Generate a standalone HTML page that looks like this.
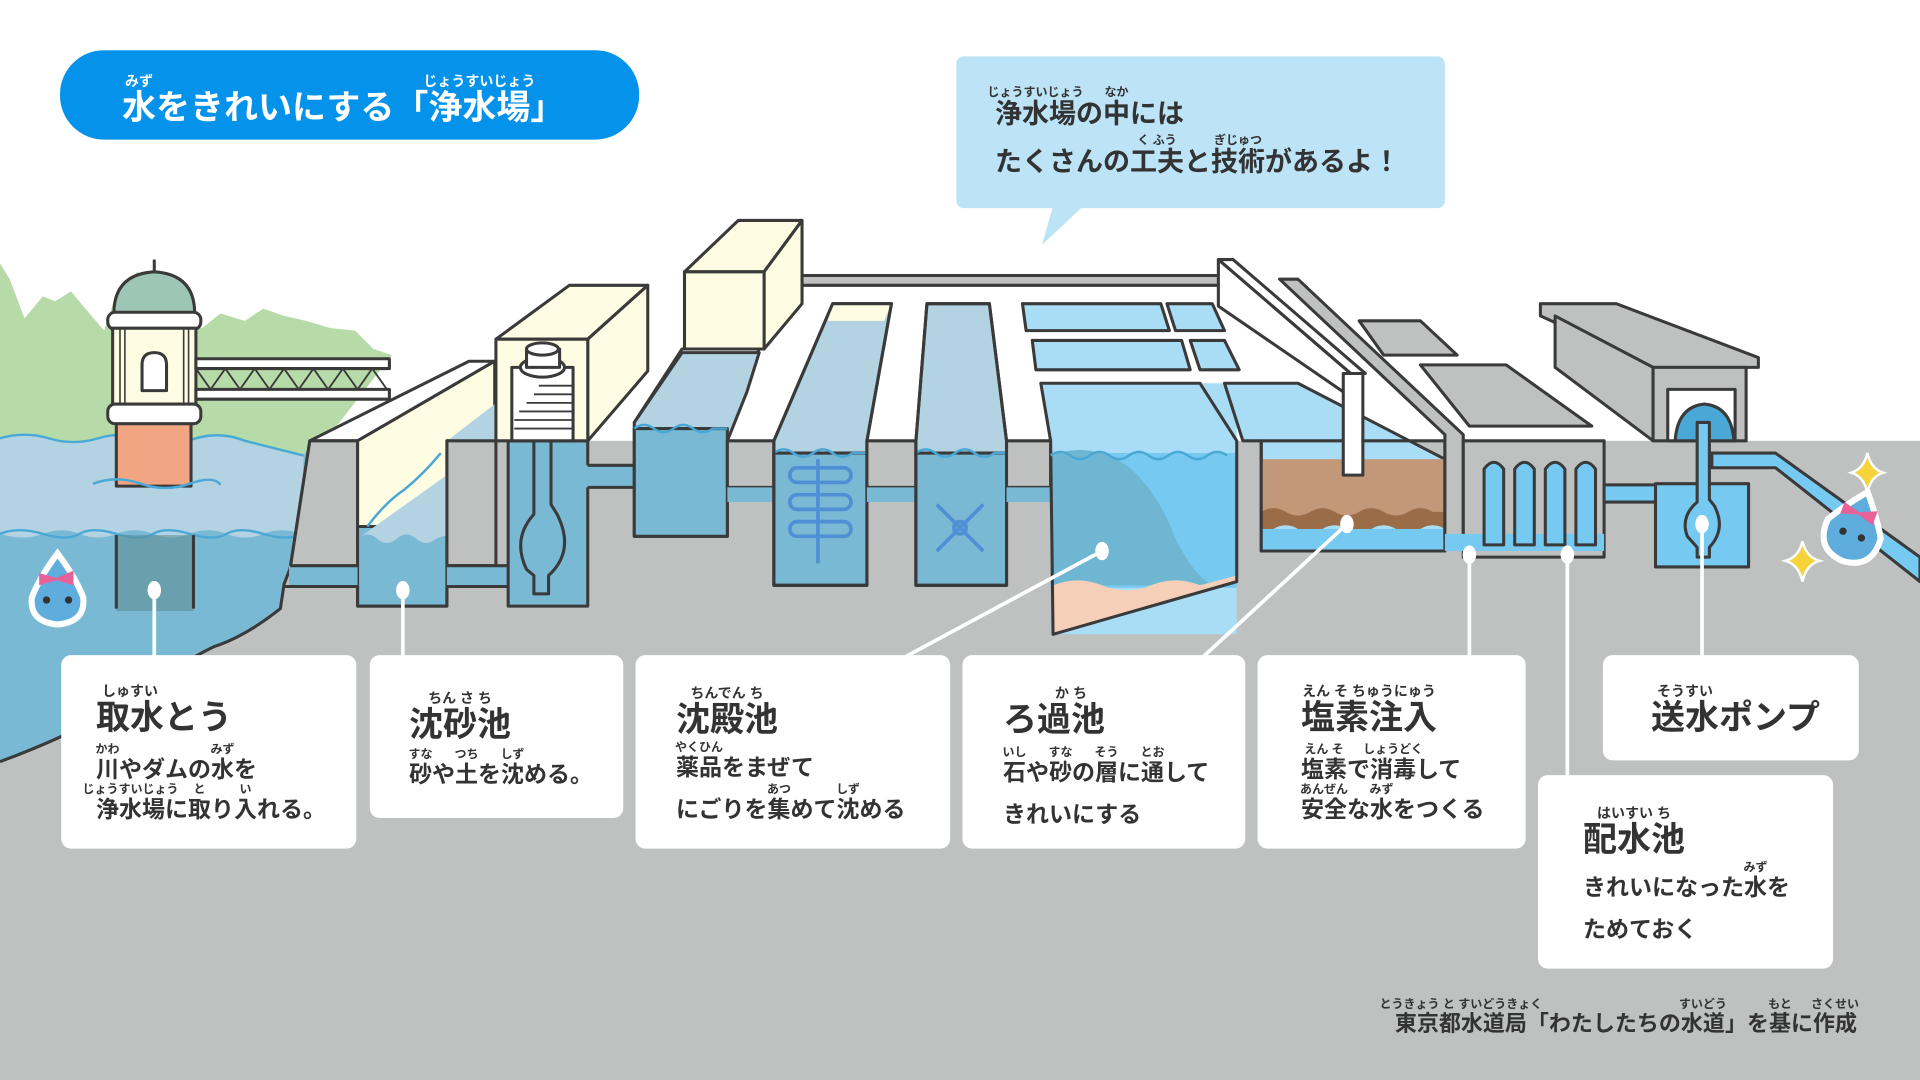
<!DOCTYPE html>
<html><head><meta charset="utf-8"><style>
html,body{margin:0;padding:0;}
body{width:1920px;height:1080px;position:relative;overflow:hidden;background:#fff;font-family:"Liberation Sans","Noto Sans CJK JP",sans-serif;}
svg{position:absolute;left:0;top:0;}
.t{position:absolute;white-space:nowrap;font-weight:bold;color:#333;line-height:2;}
.h{font-size:34px;}
.b{font-size:23px;}
.r{position:relative;display:inline-block;}
.r i{position:absolute;left:50%;transform:translateX(-50%);font-style:normal;font-size:12px;line-height:1;white-space:nowrap;top:-3px;}
.h .r i{font-size:14px;top:0px;}
.ti .r i{font-size:14px;top:0px;}
.bu .r i{top:-1px;}
.cr .r i{top:-4px;}
</style></head><body>
<svg width="1920" height="1080" viewBox="0 0 1568 882" preserveAspectRatio="none">
<g stroke="#3a3a3a" stroke-width="2.5" stroke-linejoin="round">
<rect x="0" y="360" width="1568" height="522" fill="#bfc0c0" stroke="none"/>
<path d="M0,215 L8,228 L20,260 L35,242 L45,246 L58,238 L68,250 L85,270 L95,240 L112,222 L130,235 L150,262 L165,268 L180,256 L200,262 L215,252 L232,258 L250,262 L270,268 L290,270 L305,285 L320,290 L250,380 L0,380Z" fill="#b6dba9" stroke="none"/>
<path d="M0,358 Q20,352 40,358 T80,358 T120,358 T160,358 T200,360 L248,372 L255,360 L237,464 L232,477 L229,497 Q200,520 175,528 Q140,545 110,570 Q60,600 0,622Z" fill="#79b9d4" stroke="none"/>
<path d="M0,358 Q20,352 40,358 T80,358 T120,358 T160,358 T200,360 L248,372 L246,436 Q230,430 215,436 T185,436 T155,436 T125,436 T95,436 T65,436 T35,436 T0,436Z" fill="#b3d3e3" stroke="none"/>
<path d="M0,358 Q20,352 40,358 T80,358 T120,358 T160,358 T200,360 L248,372" fill="none" stroke="#4aa8d6" stroke-width="2"/>
<path d="M0,436 Q15,430 35,436 T65,436 T95,436 T125,436 T155,436 T185,436 T215,436 T248,436" fill="none" stroke="#4aa8d6" stroke-width="2"/>
<path d="M253,360 L237,464 L232,477 L229,497 Q200,520 175,528 Q140,545 110,570 Q60,600 0,622" fill="none" stroke="#3a3a3a" stroke-width="2.5"/>
<rect x="95" y="437" width="63" height="62" fill="#5f8a8e" opacity="0.55" stroke="none"/>
<line x1="95" y1="437" x2="95" y2="497"/><line x1="158" y1="437" x2="158" y2="497"/>
<rect x="95" y="345" width="61" height="52" fill="#f2a582"/>
<path d="M76,395 Q95,388 115,395 T155,395 T180,396" fill="none" stroke="#4aa8d6" stroke-width="2"/>
<path d="M93,256 Q93,224 126,222 Q159,224 159,256Z" fill="#9ec6b6"/>
<line x1="126" y1="212" x2="126" y2="222"/>
<rect x="88" y="255" width="76" height="14" rx="6" fill="#fff"/>
<rect x="92" y="268" width="68" height="64" fill="#fefde3"/>
<g stroke-width="1.3"><line x1="98" y1="268" x2="98" y2="332"/><line x1="102" y1="268" x2="102" y2="332"/><line x1="150" y1="268" x2="150" y2="332"/><line x1="154" y1="268" x2="154" y2="332"/></g>
<path d="M116,319 L116,298 Q116,288 126,288 Q136,288 136,298 L136,319Z" fill="#fff"/>
<rect x="88" y="330" width="76" height="16" rx="6" fill="#fff"/>
<rect x="160" y="293" width="158" height="8" fill="#fff"/>
<rect x="160" y="318" width="158" height="8" fill="#fff"/>
<path d="M160,301 L172,318 L184,301 L196,318 L208,301 L220,318 L232,301 L244,318 L256,301 L268,318 L280,301 L292,318 L304,301 L316,318" fill="none" stroke-width="1.5"/>
<path d="M253,360 L292,360 L404,295 L383,295Z" fill="#fff"/>
<path d="M292,360 L404,295 L404,360 L365,360 L365,430 L292,430Z" fill="#fefde3"/>
<path d="M253,360 L292,360 L292,462 L237,464Z" fill="#bfc0c0"/>
<rect x="292" y="430" width="73" height="65" fill="#79b9d4"/>
<path d="M292,440 Q300,433 308,440 T324,440 T340,440 T356,440 L365,437 L365,360 L404,330 L404,360" fill="#b3d3e3" stroke="none"/>
<path d="M300,430 Q315,410 330,400 Q345,388 360,370" fill="none" stroke="#4aa8d6" stroke-width="2"/>
<rect x="236" y="462" width="56" height="17" fill="#79b9d4" stroke="none"/>
<line x1="237" y1="462" x2="292" y2="462"/><line x1="232" y1="479" x2="292" y2="479"/>
<rect x="365" y="360" width="40" height="102" fill="#bfc0c0"/>
<rect x="365" y="462" width="52" height="17" fill="#79b9d4" stroke="none"/>
<line x1="365" y1="462" x2="415" y2="462"/><line x1="365" y1="479" x2="415" y2="479"/>
<line x1="292" y1="479" x2="292" y2="495"/><line x1="292" y1="495" x2="365" y2="495"/><line x1="365" y1="495" x2="365" y2="479"/>
<rect x="415" y="360" width="65" height="135" fill="#79b9d4"/>
<rect x="452" y="380" width="66" height="18" fill="#79b9d4" stroke="none"/>
<line x1="480" y1="380" x2="518" y2="380"/><line x1="480" y1="398" x2="518" y2="398"/>
<path d="M436,360 L436,420 Q418,440 430,465 L436,470 L436,485 L448,485 L448,470 Q470,450 455,420 L450,412 L450,360" fill="#79b9d4"/>
<path d="M405,277 L465,233 L529,233 L480,277Z" fill="#fefde3"/>
<path d="M480,277 L529,233 L529,303 L480,360Z" fill="#fefde3"/>
<rect x="405" y="277" width="75" height="83" fill="#fefde3"/>
<rect x="418" y="300" width="50" height="60" fill="#fff"/>
<g stroke-width="1.5"><line x1="440" y1="315" x2="468" y2="315"/><line x1="436" y1="322" x2="468" y2="322"/><line x1="430" y1="329" x2="468" y2="329"/><line x1="424" y1="336" x2="468" y2="336"/><line x1="420" y1="343" x2="468" y2="343"/><line x1="420" y1="350" x2="468" y2="350"/></g>
<ellipse cx="443" cy="300" rx="18" ry="8" fill="#fff"/>
<rect x="430" y="285" width="27" height="15" fill="#fff"/>
<ellipse cx="443" cy="285" rx="13" ry="5" fill="#fff"/>
<path d="M559,222 L603,180 L655,180 L624,222Z" fill="#fefde3"/>
<path d="M624,222 L655,180 L655,248 L624,285Z" fill="#fefde3"/>
<rect x="559" y="222" width="65" height="63" fill="#fefde3"/>
<rect x="655" y="225" width="345" height="8" fill="#bfc0c0"/>
<path d="M518,345 L557,285 L620,285 L596,345Z" fill="#fff"/>
<path d="M518,345 L518,438 L594,438 L594,360 L610,320 L620,288 L557,288Z" fill="#b3d3e3"/>
<rect x="518" y="350" width="76" height="88" fill="#79b9d4"/>
<path d="M518,350 Q526,344 534,350 T550,350 T566,350 T582,350 L594,350" fill="none" stroke="#4aa8d6" stroke-width="2"/>
<rect x="594" y="360" width="38" height="38" fill="#bfc0c0"/>
<rect x="594" y="398" width="38" height="12" fill="#79b9d4" stroke="none"/>
<path d="M632,478 L632,360 L680,248 L728,248 L708,360 L708,478Z" fill="#b3d3e3"/>
<path d="M680,248 L728,248 L722,262 L676,262Z" fill="#fefde3" stroke="none"/>
<rect x="632" y="370" width="76" height="108" fill="#79b9d4"/>
<path d="M632,370 Q640,364 648,370 T664,370 T680,370 T696,370 L708,370" fill="none" stroke="#4aa8d6" stroke-width="2"/>
<path d="M632,478 L632,360 L680,248 L728,248 L708,360 L708,478Z" fill="none"/>
<rect x="708" y="360" width="40" height="38" fill="#bfc0c0"/>
<rect x="708" y="398" width="40" height="12" fill="#79b9d4" stroke="none"/>
<path d="M748,478 L748,360 L757,248 L808,248 L822,360 L822,478Z" fill="#b3d3e3"/>
<rect x="748" y="370" width="74" height="108" fill="#79b9d4"/>
<path d="M748,370 Q756,364 764,370 T780,370 T796,370 T812,370 L822,370" fill="none" stroke="#4aa8d6" stroke-width="2"/>
<path d="M748,478 L748,360 L757,248 L808,248 L822,360 L822,478Z" fill="none"/>
<g stroke="#4f8fd6" stroke-width="3" fill="none">
<line x1="668" y1="375" x2="668" y2="460"/>
<rect x="645" y="382" width="50" height="12" rx="6"/><rect x="645" y="404" width="50" height="12" rx="6"/><rect x="645" y="426" width="50" height="12" rx="6"/>
<line x1="765" y1="412" x2="803" y2="450"/><line x1="803" y1="412" x2="765" y2="450"/><circle cx="784" cy="431" r="5"/>
</g>
<rect x="822" y="360" width="36" height="38" fill="#bfc0c0"/>
<rect x="822" y="398" width="36" height="12" fill="#79b9d4" stroke="none"/>
<path d="M835,248 L948,248 L955,270 L838,270Z" fill="#a9dcf5"/>
<path d="M953,248 L990,248 L1000,270 L960,270Z" fill="#a9dcf5"/>
<path d="M843,278 L965,278 L972,302 L846,302Z" fill="#a9dcf5"/>
<path d="M972,278 L1000,278 L1012,302 L980,302Z" fill="#a9dcf5"/>
<path d="M850,313 L1010,313 L1010,518 L860,518 L858,360Z" fill="#a9dcf5" stroke="none"/>
<rect x="858" y="370" width="152" height="110" fill="#76c9f0" stroke="none"/>
<path d="M858,372 Q890,360 920,380 Q945,400 960,440 Q975,470 990,478 L858,478Z" fill="#6fb6d3" stroke="none"/>
<path d="M860,478 Q880,470 900,478 T940,478 T980,478 L1010,470 L1010,475 L860,518Z" fill="#f6cfb8" stroke="none"/>
<path d="M850,313 L980,313 L1010,360 L1010,475 L860,518 L858,360Z" fill="none"/>
<path d="M858,372 Q866,366 874,372 T890,372 T906,372 T922,372 T938,372 T954,372 T970,372 T986,372 T1002,372" fill="none" stroke="#4aa8d6" stroke-width="2"/>
<path d="M1000,313 L1060,313 L1180,375 L1180,450 L1030,450 L1030,360 L1015,360Z" fill="#a9dcf5"/>
<rect x="1030" y="375" width="150" height="52" fill="#c39878" stroke="none"/>
<path d="M1030,418 Q1040,412 1050,418 T1070,418 T1090,418 T1110,418 T1130,418 T1150,418 T1170,418 L1180,418 L1180,432 Q1170,426 1160,432 T1140,432 T1120,432 T1100,432 T1080,432 T1060,432 T1040,432 L1030,432Z" fill="#9a6d48" stroke="none"/>
<rect x="1030" y="432" width="150" height="18" fill="#76c9f0" stroke="none"/>
<rect x="1030" y="360" width="150" height="90" fill="none"/>
<path d="M995,212 L1007,212 L1115,305 L1103,305Z" fill="#fff"/>
<path d="M995,212 L995,250 L1097,320 L1103,305Z" fill="#fff"/>
<rect x="1097" y="305" width="16" height="83" fill="#fff"/>
<path d="M1045,228 L1060,228 L1195,355 L1195,440 L1180,440 L1180,355Z" fill="#bfc0c0"/>
<path d="M1110,262 L1160,262 L1190,290 L1130,290Z" fill="#bfc0c0"/>
<path d="M1160,298 L1230,298 L1300,348 L1200,348Z" fill="#bfc0c0"/>
<rect x="1195" y="360" width="115" height="95" fill="#bfc0c0"/>
<rect x="1180" y="436" width="130" height="14" fill="#76c9f0" stroke="none"/>
<g fill="#76c9f0"><path d="M1212,445 L1212,383 Q1220,372 1228,383 L1228,445Z"/><path d="M1237,445 L1237,383 Q1245,372 1253,383 L1253,445Z"/><path d="M1262,445 L1262,383 Q1270,372 1278,383 L1278,445Z"/><path d="M1287,445 L1287,383 Q1295,372 1303,383 L1303,445Z"/></g>
<rect x="1310" y="396" width="45" height="14" fill="#76c9f0"/>
<path d="M1258,248 L1320,248 L1436,292 L1436,300 L1350,300 L1258,258Z" fill="#bfc0c0"/>
<path d="M1270,258 L1350,300 L1350,360 L1270,300Z" fill="#bfc0c0"/>
<rect x="1350" y="300" width="76" height="60" fill="#bfc0c0"/>
<rect x="1362" y="318" width="55" height="42" fill="#fff"/>
<path d="M1368,360 Q1370,332 1392,330 Q1414,332 1416,360Z" fill="#4aa8d6"/>
<path d="M1398,370 L1450,370 L1568,455 L1568,475 L1450,382 L1398,382Z" fill="#76c9f0"/>
<rect x="1352" y="395" width="76" height="68" fill="#76c9f0"/>
<path d="M1386,345 L1386,410 Q1372,422 1378,438 L1386,447 L1386,455 L1396,455 L1396,447 Q1410,432 1400,413 L1396,408 L1396,345Z" fill="#76c9f0"/>
</g>
<g>
<path d="M47,452 Q62,472 68,488 Q70,508 47,510 Q24,508 26,488 Q32,472 47,452Z" fill="#5eaddd" stroke="#fff" stroke-width="5"/>
<path d="M32,468 L46,472 L60,466 L60,478 L46,474 L32,478Z" fill="#e8629a"/>
<circle cx="38" cy="490" r="3" fill="#333"/><circle cx="56" cy="490" r="3" fill="#333"/>
<g transform="rotate(20 1515 430)">
<path d="M1515,400 Q1530,418 1538,432 Q1540,458 1515,460 Q1490,458 1492,432 Q1500,418 1515,400Z" fill="#5eaddd" stroke="#fff" stroke-width="5"/>
<path d="M1500,414 L1514,418 L1528,412 L1528,424 L1514,420 L1500,424Z" fill="#e8629a"/>
<circle cx="1507" cy="437" r="3" fill="#333"/><circle cx="1523" cy="437" r="3" fill="#333"/>
</g>
<path d="M1525,370 Q1528,383 1538,386 Q1528,389 1525,402 Q1522,389 1512,386 Q1522,383 1525,370Z" fill="#f6d33a" stroke="#fff" stroke-width="2"/>
<path d="M1472,442 Q1475,455 1486,458 Q1475,461 1472,475 Q1469,461 1458,458 Q1469,455 1472,442Z" fill="#f6d33a" stroke="#fff" stroke-width="2"/>
</g>
<g stroke="#fff" stroke-width="3" fill="#fff">
<line x1="126" y1="482" x2="126" y2="536"/><ellipse cx="126" cy="482" rx="4" ry="6"/>
<line x1="329" y1="482" x2="329" y2="536"/><ellipse cx="329" cy="482" rx="4" ry="6"/>
<line x1="900" y1="450" x2="740" y2="536"/><ellipse cx="900" cy="450" rx="4" ry="6"/>
<line x1="1100" y1="428" x2="983" y2="536"/><ellipse cx="1100" cy="428" rx="4" ry="6"/>
<line x1="1200" y1="453" x2="1200" y2="536"/><ellipse cx="1200" cy="453" rx="4" ry="6"/>
<line x1="1280" y1="453" x2="1280" y2="634"/><ellipse cx="1280" cy="453" rx="4" ry="6"/>
<line x1="1390" y1="428" x2="1390" y2="536"/><ellipse cx="1390" cy="428" rx="4" ry="6"/>
</g>
<g fill="#fff">
<rect x="50" y="535" width="241" height="158" rx="8"/>
<rect x="302" y="535" width="207" height="133" rx="8"/>
<rect x="519" y="535" width="257" height="158" rx="8"/>
<rect x="786" y="535" width="231" height="158" rx="8"/>
<rect x="1027" y="535" width="219" height="158" rx="8"/>
<rect x="1309" y="535" width="209" height="86" rx="8"/>
<rect x="1256" y="633" width="241" height="158" rx="8"/>
</g>
<rect x="49" y="41" width="473" height="73" rx="36" fill="#0592ea"/>
<rect x="781" y="46" width="399" height="124" rx="6" fill="#bde3f7"/>
<path d="M860,168 L885,168 L851,200Z" fill="#bde3f7"/>
</svg>

<div class="t ti" style="left:122px;top:74px;font-size:34px;color:#fff;"><span class="r">水<i>みず</i></span>をきれいにする「<span class="r">浄水場<i>じょうすいじょう</i></span>」</div>
<div class="t bu" style="left:995px;top:87px;font-size:27px;"><span class="r">浄水場<i>じょうすいじょう</i></span>の<span class="r">中<i>なか</i></span>には</div>
<div class="t bu" style="left:995px;top:135px;font-size:27px;">たくさんの<span class="r">工夫<i>く ふう</i></span>と<span class="r">技術<i>ぎじゅつ</i></span>があるよ！</div>

<div class="t h" style="left:96px;top:684px;"><span class="r">取水<i>しゅすい</i></span>とう</div>
<div class="t b" style="left:96px;top:746px;"><span class="r">川<i>かわ</i></span>やダムの<span class="r">水<i>みず</i></span>を</div>
<div class="t b" style="left:96px;top:786px;"><span class="r">浄水場<i>じょうすいじょう</i></span>に<span class="r">取<i>と</i></span>り<span class="r">入<i>い</i></span>れる。</div>

<div class="t h" style="left:409px;top:691px;"><span class="r">沈砂池<i>ちん さ ち</i></span></div>
<div class="t b" style="left:409px;top:751px;"><span class="r">砂<i>すな</i></span>や<span class="r">土<i>つち</i></span>を<span class="r">沈<i>しず</i></span>める。</div>

<div class="t h" style="left:676px;top:686px;"><span class="r">沈殿池<i>ちんでん ち</i></span></div>
<div class="t b" style="left:676px;top:744px;"><span class="r">薬品<i>やくひん</i></span>をまぜて</div>
<div class="t b" style="left:676px;top:786px;">にごりを<span class="r">集<i>あつ</i></span>めて<span class="r">沈<i>しず</i></span>める</div>

<div class="t h" style="left:1003px;top:686px;">ろ<span class="r">過池<i>か ち</i></span></div>
<div class="t b" style="left:1003px;top:749px;"><span class="r">石<i>いし</i></span>や<span class="r">砂<i>すな</i></span>の<span class="r">層<i>そう</i></span>に<span class="r">通<i>とお</i></span>して</div>
<div class="t b" style="left:1003px;top:791px;">きれいにする</div>

<div class="t h" style="left:1301px;top:684px;"><span class="r">塩素注入<i>えん そ ちゅうにゅう</i></span></div>
<div class="t b" style="left:1301px;top:746px;"><span class="r">塩素<i>えん そ</i></span>で<span class="r">消毒<i>しょうどく</i></span>して</div>
<div class="t b" style="left:1301px;top:786px;"><span class="r">安全<i>あんぜん</i></span>な<span class="r">水<i>みず</i></span>をつくる</div>

<div class="t h" style="left:1651px;top:684px;"><span class="r">送水<i>そうすい</i></span>ポンプ</div>

<div class="t h" style="left:1583px;top:806px;"><span class="r">配水池<i>はいすい ち</i></span></div>
<div class="t b" style="left:1583px;top:864px;">きれいになった<span class="r">水<i>みず</i></span>を</div>
<div class="t b" style="left:1583px;top:906px;">ためておく</div>

<div class="t cr" style="right:63px;top:1002px;font-size:22px;"><span class="r">東京都水道局<i>とうきょう と すいどうきょく</i></span>「わたしたちの<span class="r">水道<i>すいどう</i></span>」を<span class="r">基<i>もと</i></span>に<span class="r">作成<i>さくせい</i></span></div>
</body></html>
